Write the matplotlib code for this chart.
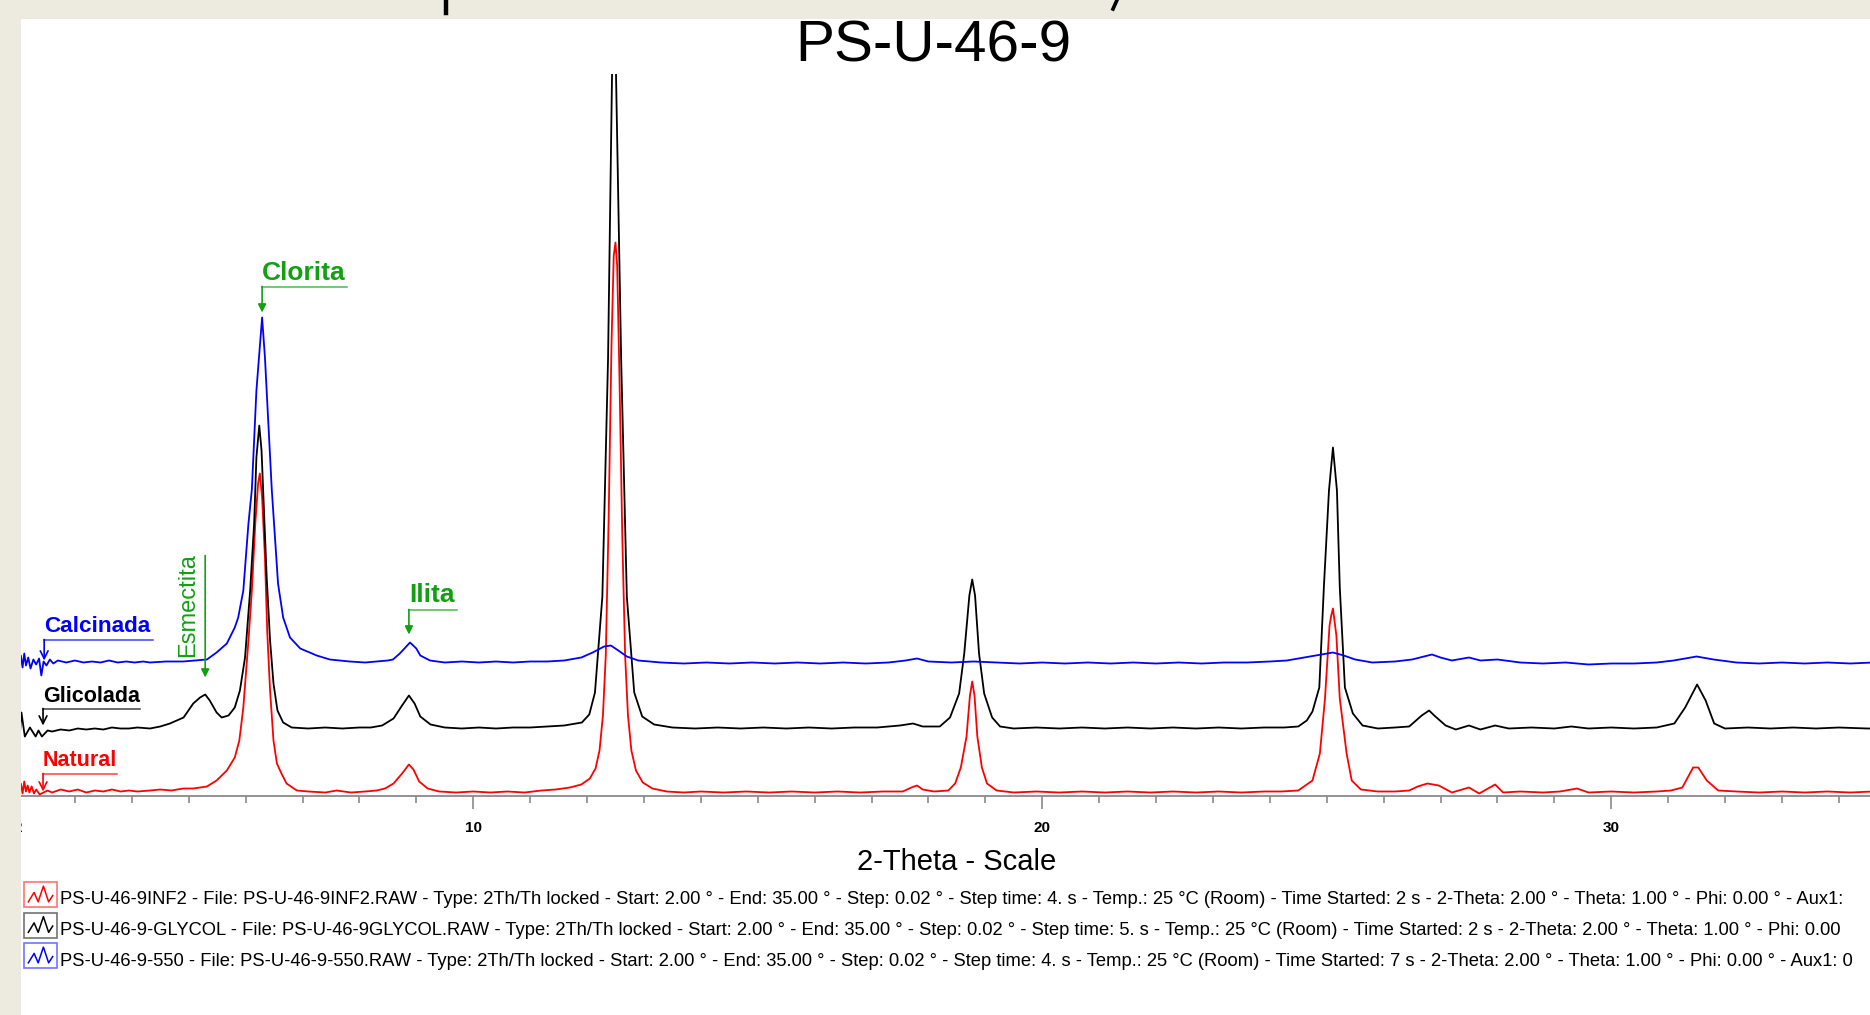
"""
PS-U-46-9 clay fraction diffractograms (natural / glycolated / calcined).
Stacked XRD patterns in the style of a DIFFRAC.EVA export pasted on a slide.
"""

import matplotlib
matplotlib.use("Agg")  # no display
import matplotlib.pyplot as plt
from matplotlib.patches import Rectangle
from matplotlib.lines import Line2D

W, H = 1870, 1015  # output size in px (dpi 100)

# ----------------------------------------------------------------------
# Scans: (2-theta deg, counts)
# ----------------------------------------------------------------------
NATURAL_SCAN = [
    (2.02, 3), (2.05, 12), (2.08, 2), (2.11, 14), (2.14, 4), (2.17, 10), (2.20, 3),
    (2.24, 9), (2.28, 2), (2.32, 6), (2.38, 1), (2.45, 3), (2.52, 5), (2.60, 3),
    (2.75, 6), (2.90, 4), (3.05, 6), (3.20, 3), (3.35, 5), (3.50, 4), (3.65, 6),
    (3.80, 4), (3.95, 5), (4.10, 4), (4.32, 5), (4.50, 6), (4.70, 5), (4.90, 7),
    (5.08, 7), (5.20, 8), (5.32, 9), (5.49, 15), (5.67, 25), (5.81, 38), (5.89, 55),
    (5.96, 88), (6.05, 155), (6.11, 205), (6.17, 272), (6.22, 312), (6.25, 322),
    (6.29, 298), (6.34, 238), (6.38, 164), (6.43, 105), (6.49, 55), (6.55, 32),
    (6.63, 22), (6.72, 12), (6.90, 5), (7.10, 4), (7.40, 3), (7.60, 5), (7.85, 3),
    (8.10, 4), (8.30, 5), (8.45, 7), (8.60, 12), (8.75, 22), (8.87, 31), (8.95, 26),
    (9.05, 14), (9.20, 7), (9.40, 4), (9.70, 3), (10.0, 4), (10.3, 3), (10.6, 4),
    (10.9, 3), (11.2, 5), (11.45, 6), (11.7, 8), (11.9, 11), (12.05, 17), (12.15, 27),
    (12.22, 45), (12.28, 80), (12.33, 140), (12.38, 275), (12.43, 450), (12.47, 540),
    (12.50, 553), (12.53, 530), (12.57, 420), (12.62, 260), (12.67, 140), (12.72, 80),
    (12.78, 45), (12.86, 25), (12.98, 13), (13.15, 7), (13.4, 4), (13.7, 3), (14.0, 4),
    (14.4, 3), (14.8, 4), (15.2, 3), (15.6, 4), (16.0, 3), (16.4, 4), (16.8, 3),
    (17.2, 4), (17.55, 4), (17.7, 8), (17.8, 10), (17.9, 6), (18.1, 4), (18.35, 5),
    (18.47, 12), (18.57, 28), (18.67, 59), (18.73, 100), (18.77, 114), (18.81, 100),
    (18.86, 59), (18.94, 28), (19.03, 12), (19.2, 5), (19.5, 3), (19.9, 4), (20.3, 3),
    (20.7, 4), (21.1, 3), (21.5, 4), (21.9, 3), (22.3, 4), (22.7, 3), (23.1, 4),
    (23.5, 3), (23.9, 4), (24.2, 4), (24.5, 5), (24.75, 15), (24.88, 42), (24.97, 97),
    (25.05, 170), (25.08, 180), (25.11, 187), (25.17, 160), (25.23, 97), (25.35, 42),
    (25.44, 15), (25.6, 6), (25.9, 4), (26.2, 4), (26.45, 5), (26.6, 9), (26.77, 12),
    (26.97, 10), (27.2, 3), (27.5, 8), (27.68, 2), (27.96, 11), (28.1, 3), (28.4, 4),
    (28.8, 3), (29.1, 4), (29.4, 7), (29.6, 3), (30.0, 4), (30.4, 3), (30.8, 4),
    (31.05, 5), (31.25, 8), (31.44, 28), (31.53, 28), (31.68, 15), (31.88, 5),
    (32.2, 4), (32.6, 3), (33.0, 4), (33.4, 3), (33.8, 4), (34.2, 3), (34.6, 4),
    (35.0, 3),
]

GLYCOL_SCAN = [
    (2.02, -14), (2.06, 18), (2.12, -6), (2.21, 3), (2.31, -6), (2.36, 0), (2.42, -6),
    (2.52, 0), (2.60, -1), (2.75, 1), (2.90, 0), (3.05, 2), (3.20, 1), (3.35, 2),
    (3.50, 1), (3.65, 3), (3.80, 2), (3.95, 2), (4.10, 3), (4.32, 2), (4.50, 4),
    (4.67, 7), (4.91, 13), (5.08, 27), (5.20, 33), (5.29, 36), (5.37, 30), (5.49, 18),
    (5.58, 13), (5.70, 15), (5.81, 23), (5.90, 40), (5.99, 73), (6.08, 140),
    (6.15, 207), (6.19, 273), (6.24, 305), (6.28, 280), (6.32, 223), (6.37, 154),
    (6.43, 90), (6.49, 47), (6.56, 20), (6.66, 8), (6.81, 3), (7.10, 2), (7.40, 3),
    (7.70, 2), (8.00, 3), (8.20, 3), (8.40, 5), (8.60, 12), (8.75, 25), (8.87, 35),
    (8.97, 27), (9.07, 14), (9.25, 6), (9.50, 3), (9.80, 2), (10.1, 3), (10.4, 2),
    (10.7, 3), (11.0, 3), (11.3, 4), (11.6, 5), (11.91, 8), (12.04, 16), (12.14, 38),
    (12.27, 134), (12.37, 372), (12.44, 656), (12.48, 900), (12.51, 656),
    (12.60, 372), (12.70, 134), (12.83, 38), (12.97, 14), (13.18, 6), (13.5, 3),
    (13.9, 2), (14.3, 3), (14.7, 2), (15.1, 3), (15.5, 2), (15.9, 3), (16.3, 2),
    (16.7, 3), (17.1, 3), (17.5, 5), (17.73, 7), (17.9, 4), (18.2, 4), (18.38, 13),
    (18.54, 37), (18.63, 77), (18.72, 135), (18.77, 151), (18.82, 135), (18.89, 77),
    (18.98, 37), (19.12, 13), (19.26, 4), (19.5, 2), (19.9, 3), (20.3, 2), (20.7, 3),
    (21.1, 2), (21.5, 3), (21.9, 2), (22.3, 3), (22.7, 2), (23.1, 3), (23.5, 2),
    (23.9, 3), (24.25, 3), (24.5, 4), (24.65, 10), (24.75, 19), (24.87, 43),
    (24.95, 143), (25.04, 240), (25.11, 283), (25.18, 240), (25.23, 143), (25.32, 43),
    (25.46, 17), (25.63, 5), (25.9, 2), (26.2, 3), (26.45, 4), (26.67, 15),
    (26.80, 20), (26.89, 15), (27.09, 5), (27.27, 1), (27.5, 5), (27.7, 1),
    (27.96, 5), (28.2, 2), (28.6, 3), (29.0, 2), (29.3, 4), (29.6, 2), (30.0, 3),
    (30.4, 2), (30.8, 3), (31.11, 7), (31.30, 23), (31.51, 46), (31.66, 30),
    (31.81, 7), (32.0, 2), (32.4, 3), (32.8, 2), (33.2, 3), (33.6, 2), (34.0, 3),
    (34.5, 2), (35.0, 2),
]

CALCINED_SCAN = [
    (2.02, 2), (2.05, 10), (2.08, -2), (2.11, 12), (2.14, 0), (2.18, 8), (2.22, -3),
    (2.27, 6), (2.32, 1), (2.37, 7), (2.41, -10), (2.45, 4), (2.50, 0), (2.56, 6),
    (2.62, 2), (2.70, 5), (2.85, 3), (3.00, 5), (3.15, 3), (3.30, 4), (3.45, 3),
    (3.60, 5), (3.75, 3), (3.90, 4), (4.05, 3), (4.20, 4), (4.32, 3), (4.60, 4),
    (4.90, 4), (5.10, 5), (5.32, 6), (5.49, 13), (5.67, 22), (5.81, 38), (5.87, 48),
    (5.96, 75), (6.05, 142), (6.11, 176), (6.19, 275), (6.29, 348), (6.34, 308),
    (6.40, 242), (6.46, 176), (6.52, 125), (6.57, 82), (6.66, 48), (6.78, 28),
    (6.96, 17), (7.25, 10), (7.48, 6), (7.83, 4), (8.10, 3), (8.30, 4), (8.50, 5),
    (8.59, 6), (8.71, 12), (8.89, 23), (9.00, 17), (9.07, 10), (9.24, 5), (9.50, 3),
    (9.80, 4), (10.1, 3), (10.4, 4), (10.7, 3), (11.0, 4), (11.3, 4), (11.6, 5),
    (11.9, 8), (12.1, 13), (12.3, 19), (12.42, 20), (12.55, 15), (12.7, 9), (12.9, 5),
    (13.3, 3), (13.7, 2), (14.1, 3), (14.5, 2), (14.9, 3), (15.3, 2), (15.7, 3),
    (16.1, 2), (16.5, 3), (16.9, 2), (17.3, 3), (17.6, 5), (17.8, 7), (18.0, 4),
    (18.4, 3), (18.8, 4), (19.2, 3), (19.6, 2), (20.0, 3), (20.4, 2), (20.8, 3),
    (21.2, 2), (21.6, 3), (22.0, 2), (22.4, 3), (22.8, 2), (23.2, 3), (23.6, 3),
    (24.0, 4), (24.3, 5), (24.6, 8), (24.9, 11), (25.11, 13), (25.3, 10), (25.5, 6),
    (25.8, 3), (26.2, 4), (26.5, 6), (26.85, 11), (27.0, 8), (27.2, 5), (27.5, 8),
    (27.7, 5), (28.0, 6), (28.4, 3), (28.8, 2), (29.2, 3), (29.6, 1), (30.0, 2),
    (30.4, 2), (30.8, 3), (31.1, 5), (31.5, 9), (31.8, 6), (32.2, 3), (32.6, 2),
    (33.0, 3), (33.4, 2), (33.8, 3), (34.2, 2), (34.6, 3), (35.0, 3),
]

SCAN_NAMES = ["Natural", "Glicolada", "Calcinada"]
SCAN_COLORS = ["#ff0000", "#000000", "#0000ff"]
STACK_OFFSET = [0, 65, 130]  # vertical offset of each pattern (counts)

LEGEND_LINES = [
    "PS-U-46-9INF2 - File: PS-U-46-9INF2.RAW - Type: 2Th/Th locked - Start: 2.00 ° - "
    "End: 35.00 ° - Step: 0.02 ° - Step time: 4. s - Temp.: 25 °C (Room) - Time Started: "
    "2 s - 2-Theta: 2.00 ° - Theta: 1.00 ° - Phi: 0.00 ° - Aux1:",
    "PS-U-46-9-GLYCOL - File: PS-U-46-9GLYCOL.RAW - Type: 2Th/Th locked - Start: 2.00 ° - "
    "End: 35.00 ° - Step: 0.02 ° - Step time: 5. s - Temp.: 25 °C (Room) - Time Started: "
    "2 s - 2-Theta: 2.00 ° - Theta: 1.00 ° - Phi: 0.00",
    "PS-U-46-9-550 - File: PS-U-46-9-550.RAW - Type: 2Th/Th locked - Start: 2.00 ° - "
    "End: 35.00 ° - Step: 0.02 ° - Step time: 4. s - Temp.: 25 °C (Room) - Time Started: "
    "7 s - 2-Theta: 2.00 ° - Theta: 1.00 ° - Phi: 0.00 ° - Aux1: 0",
]

XTICKS = [2, 10, 20, 30]
GREEN = "#12a012"
BEIGE = "#edeae0"


def fx(px):
    return px / W


def fy(py):
    return 1 - py / H


def flag(ax, text, x0, x1, y_line, y_tip, color, fs, head, ms):
    """Underlined label with an arrow dropping from the start of the line."""
    ax.text(x0, y_line + 7, text, color=color, fontsize=fs, fontweight="bold",
            ha="left", va="baseline", zorder=5)
    ax.plot([x0, x1], [y_line, y_line], color=color, lw=1.1, alpha=0.75,
            clip_on=False, zorder=5)
    ax.annotate("", xy=(x0, y_tip), xytext=(x0, y_line), annotation_clip=False,
                arrowprops=dict(arrowstyle=head, color=color, lw=1.2,
                                shrinkA=0, shrinkB=0, mutation_scale=ms),
                zorder=5)


plt.rcParams["font.family"] = ["Liberation Sans", "DejaVu Sans"]

fig = plt.figure(figsize=(W / 100, H / 100), dpi=100, facecolor=BEIGE)
# white slide picture area
fig.add_artist(Rectangle((fx(21), 0), 1 - fx(21), fy(19), transform=fig.transFigure,
                         facecolor="white", edgecolor="none", zorder=-5))

# axes: 2 deg at x=18 px, 56.9 px per degree, baseline at y=795.5 px
ax = fig.add_axes([fx(18), fy(795.5), (33 * 56.9) / W, (795.5 - 74) / H])
ax.set_facecolor("none")
ax.set_xlim(2, 35)
ax.set_ylim(0, 795.5 - 74)

for scan, color, off in zip([NATURAL_SCAN, GLYCOL_SCAN, CALCINED_SCAN], SCAN_COLORS, STACK_OFFSET):
    tt, counts = zip(*scan)
    ax.plot(tt, [c + off for c in counts], color=color, lw=1.3, zorder=3)

for side in ["left", "right", "top"]:
    ax.spines[side].set_visible(False)
ax.spines["bottom"].set_color("#8a8a8a")
ax.spines["bottom"].set_linewidth(1.3)
ax.set_yticks([])
ax.set_xticks(XTICKS)
ax.set_xticklabels([str(t) for t in XTICKS], fontsize=11, fontweight="bold")
ax.set_xticks([t for t in range(3, 36) if t not in XTICKS], minor=True)
ax.tick_params(axis="x", which="major", length=9, width=1.2, color="#8a8a8a", pad=9)
ax.tick_params(axis="x", which="minor", length=5, width=1.2, color="#8a8a8a")

# sample labels
flag(ax, "Calcinada", 2.46, 4.37, 156, 135, SCAN_COLORS[2], 16.2, "->", 14)
flag(ax, "Glicolada", 2.44, 4.14, 87, 70, SCAN_COLORS[1], 15.5, "->", 14)
flag(ax, "Natural", 2.44, 3.74, 22, 4, SCAN_COLORS[0], 15.5, "->", 14)

# mineral markers
flag(ax, "Clorita", 6.29, 7.78, 509, 483, GREEN, 19, "-|>", 12)
flag(ax, "Ilita", 8.87, 9.72, 186, 161, GREEN, 19, "-|>", 12)
ax.text(5.19, 190, "Esmectita", color=GREEN, fontsize=17, rotation=90,
        ha="right", va="center", zorder=5)
ax.annotate("", xy=(5.29, 118), xytext=(5.29, 240), annotation_clip=False,
            arrowprops=dict(arrowstyle="-|>", color=GREEN, lw=1.2,
                            shrinkA=0, shrinkB=0, mutation_scale=12), zorder=5)

# titles
fig.text(fx(933), fy(47), "PS-U-46-9", fontsize=42, ha="center", va="center")
fig.text(fx(957), fy(862), "2-Theta - Scale", fontsize=21, ha="center", va="center")

# legend rows: small scan icon + file description
icon_x = [0.08, 0.28, 0.42, 0.6, 0.78, 0.92]
icon_y = [0.15, 0.6, 0.15, 0.9, 0.15, 0.45]
for i, (line, color) in enumerate(zip(LEGEND_LINES, SCAN_COLORS)):
    top = 882 + 30.5 * i
    x0, x1, y0, y1 = 24, 57, top + 25, top
    fig.add_artist(Rectangle((fx(x0), fy(y0)), fx(x1 - x0), (y0 - y1) / H,
                             transform=fig.transFigure, facecolor="none",
                             edgecolor=color, alpha=0.55, lw=1.2))
    fig.add_artist(Line2D([fx(x0 + 2 + u * (x1 - x0 - 4)) for u in icon_x],
                          [fy(y0 - 2 - v * (y0 - y1 - 4)) for v in icon_y],
                          transform=fig.transFigure, color=color, lw=1.1))
    fig.text(fx(60), fy(top + 18), line, fontsize=13.2, ha="left", va="center")

# beige slide border over the left edge of the picture
fig.add_artist(Rectangle((0, 0), fx(21), 1, transform=fig.transFigure,
                         facecolor=BEIGE, edgecolor="none", zorder=10))
# bits of the slide text line cut off above the picture (descender of a "p", a comma)
fig.add_artist(Line2D([fx(446), fx(446)], [1.0, fy(13)], transform=fig.transFigure,
                      color="black", lw=3.2, zorder=11))
fig.add_artist(Line2D([fx(1117), fx(1113)], [1.0, fy(9)], transform=fig.transFigure,
                      color="black", lw=2.6, zorder=11))

fig.savefig("out.png", dpi=100, facecolor=BEIGE)
plt.close(fig)
